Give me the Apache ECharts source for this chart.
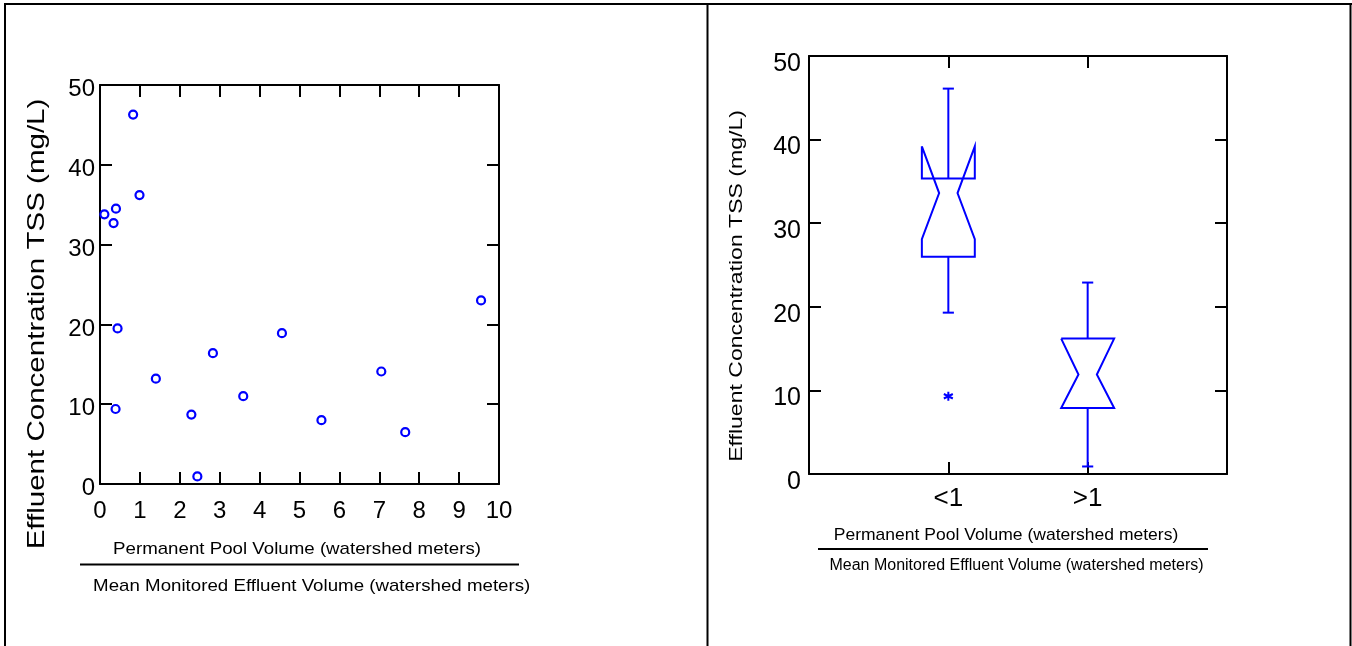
<!DOCTYPE html>
<html>
<head>
<meta charset="utf-8">
<script src="https://cdn.jsdelivr.net/npm/echarts@6/dist/echarts.min.js"></script>
<style>
html,body{margin:0;padding:0;background:#fff;}
#c{width:1352px;height:646px;}
</style>
</head>
<body>
<div id="c"></div>
<script>
// ---- Data ----
const poolRatio = [0.11, 0.34, 0.40, 0.39, 0.44, 0.83, 0.99, 1.40, 2.29, 2.44, 2.83, 3.59, 4.56, 5.55, 7.05, 7.65, 9.55];
const tssValues = [33.8, 32.7, 34.5, 9.4, 19.5, 46.3, 36.2, 13.2, 8.7, 0.95, 16.4, 11.0, 18.9, 8.0, 14.1, 6.5, 23.0];

const boxCategories = ['<1', '>1'];
const boxLowWhisker = [19.3, 0.9];
const boxQ1 = [26.0, 7.9];
const boxMedian = [33.6, 11.9];
const boxQ3 = [35.35, 16.2];
const boxHighWhisker = [46.1, 22.9];
const notchLow = [28.1, 7.9];
const notchHigh = [39.2, 16.2];
const outlierCategory = [0];
const outlierValue = [9.3];

const yTitle = 'Effluent Concentration TSS (mg/L)';
const xTitleTop = 'Permanent Pool Volume (watershed meters)';
const xTitleBottom = 'Mean Monitored Effluent Volume (watershed meters)';

// ---- Chart ----
const FF = '"Liberation Sans", Arial, sans-serif';
const BLUE = '#0000ff';
const chart = echarts.init(document.getElementById('c'), null, {renderer: 'canvas'});

const scatterData = poolRatio.map((x, i) => [x, tssValues[i]]);
const boxData = boxCategories.map((c, i) => [i + 1, boxLowWhisker[i], boxQ1[i], boxMedian[i], boxQ3[i], boxHighWhisker[i], notchLow[i], notchHigh[i]]);
const outlierData = outlierCategory.map((c, i) => [c + 1, outlierValue[i]]);

function axisBase(extra) {
  return Object.assign({
    type: 'value',
    axisLine: {onZero: false, lineStyle: {color: '#000', width: 2}},
    axisTick: {inside: true, length: 12, lineStyle: {color: '#000', width: 2}},
    splitLine: {show: false}
  }, extra);
}

const option = {
  animation: false,
  backgroundColor: '#fff',
  grid: [
    {left: 100, top: 85, width: 399, height: 399},
    {left: 809, top: 56, width: 418, height: 418}
  ],
  xAxis: [
    axisBase({gridIndex: 0, min: 0, max: 10, interval: 1, position: 'bottom',
      axisLabel: {color: '#000', fontSize: 24, fontFamily: FF, margin: 15}}),
    axisBase({gridIndex: 0, min: 0, max: 10, interval: 1, position: 'top', axisLabel: {show: false}}),
    axisBase({gridIndex: 1, min: 0, max: 3, interval: 1, position: 'bottom',
      axisLabel: {color: '#000', fontSize: 26, fontFamily: FF, margin: 12,
        formatter: v => (v >= 1 && v <= boxCategories.length) ? boxCategories[v - 1] : ''}}),
    axisBase({gridIndex: 1, min: 0, max: 3, interval: 1, position: 'top', axisLabel: {show: false}})
  ],
  yAxis: [
    axisBase({gridIndex: 0, min: 0, max: 50, interval: 10, position: 'left',
      axisLabel: {color: '#000', fontSize: 24, fontFamily: FF, margin: 5, verticalAlign: 'top', lineHeight: 9}}),
    axisBase({gridIndex: 0, min: 0, max: 50, interval: 10, position: 'right', axisLabel: {show: false}}),
    axisBase({gridIndex: 1, min: 0, max: 50, interval: 10, position: 'left',
      axisLabel: {color: '#000', fontSize: 25, fontFamily: FF, margin: 8, verticalAlign: 'top', lineHeight: 16}}),
    axisBase({gridIndex: 1, min: 0, max: 50, interval: 10, position: 'right', axisLabel: {show: false}})
  ],
  series: [
    {
      type: 'scatter', xAxisIndex: 0, yAxisIndex: 0, data: scatterData,
      symbol: 'circle', symbolSize: 8,
      itemStyle: {color: '#fff', borderColor: BLUE, borderWidth: 2.2, opacity: 1}
    },
    {
      type: 'custom', xAxisIndex: 2, yAxisIndex: 2, data: boxData,
      renderItem: function (params, api) {
        const x = api.value(0);
        const unit = api.size([1, 0])[0];
        const half = unit * 0.19, waist = unit * 0.066, cap = unit * 0.04;
        const cx = api.coord([x, 0])[0];
        const y = v => api.coord([x, v])[1];
        const low = api.value(1), q1 = api.value(2), med = api.value(3), q3 = api.value(4),
              high = api.value(5), nlo = api.value(6), nhi = api.value(7);
        const st = {stroke: BLUE, lineWidth: 2, fill: null};
        const pts = [
          [cx - half, y(nhi)], [cx - waist, y(med)], [cx - half, y(nlo)], [cx - half, y(q1)],
          [cx + half, y(q1)], [cx + half, y(nlo)], [cx + waist, y(med)], [cx + half, y(nhi)],
          [cx + half, y(q3)], [cx - half, y(q3)], [cx - half, y(nhi)]
        ];
        return {
          type: 'group',
          children: [
            {type: 'polyline', shape: {points: pts}, style: st},
            {type: 'line', shape: {x1: cx, y1: y(q3), x2: cx, y2: y(high)}, style: st},
            {type: 'line', shape: {x1: cx - cap, y1: y(high), x2: cx + cap, y2: y(high)}, style: st},
            {type: 'line', shape: {x1: cx, y1: y(q1), x2: cx, y2: y(low)}, style: st},
            {type: 'line', shape: {x1: cx - cap, y1: y(low), x2: cx + cap, y2: y(low)}, style: st}
          ]
        };
      }
    },
    {
      type: 'scatter', xAxisIndex: 2, yAxisIndex: 2, data: outlierData,
      symbol: 'path://M5,0L5,10M0.67,2.5L9.33,7.5M0.67,7.5L9.33,2.5', symbolSize: 9,
      itemStyle: {color: 'none', borderColor: BLUE, borderWidth: 2, opacity: 1}
    }
  ],
  graphic: [
    // panel frame
    {type: 'line', shape: {x1: 5, y1: 4, x2: 5, y2: 646}, style: {stroke: '#000', lineWidth: 2}},
    {type: 'line', shape: {x1: 4, y1: 4, x2: 1352, y2: 4}, style: {stroke: '#000', lineWidth: 2}},
    {type: 'line', shape: {x1: 1350.5, y1: 4, x2: 1350.5, y2: 646}, style: {stroke: '#000', lineWidth: 2}},
    {type: 'line', shape: {x1: 707.5, y1: 4, x2: 707.5, y2: 646}, style: {stroke: '#000', lineWidth: 2}},
    // left panel titles
    {type: 'text', x: 37, y: 324, rotation: Math.PI / 2, scaleX: 1.23,
      style: {text: yTitle, fontSize: 24, fontFamily: FF, fill: '#000', align: 'center', verticalAlign: 'middle', textAlign: 'center', textVerticalAlign: 'middle'}},
    {type: 'text', x: 297, y: 549, scaleX: 1.1,
      style: {text: xTitleTop, fontSize: 17, fontFamily: FF, fill: '#000', align: 'center', verticalAlign: 'middle', textAlign: 'center', textVerticalAlign: 'middle'}},
    {type: 'line', shape: {x1: 80, y1: 564.5, x2: 519, y2: 564.5}, style: {stroke: '#000', lineWidth: 2}},
    {type: 'text', x: 311.7, y: 586, scaleX: 1.1,
      style: {text: xTitleBottom, fontSize: 17, fontFamily: FF, fill: '#000', align: 'center', verticalAlign: 'middle', textAlign: 'center', textVerticalAlign: 'middle'}},
    // right panel titles
    {type: 'text', x: 737, y: 286, rotation: Math.PI / 2, scaleX: 1.28,
      style: {text: yTitle, fontSize: 18, fontFamily: FF, fill: '#000', align: 'center', verticalAlign: 'middle', textAlign: 'center', textVerticalAlign: 'middle'}},
    {type: 'text', x: 1006, y: 535, scaleX: 1.03,
      style: {text: xTitleTop, fontSize: 17, fontFamily: FF, fill: '#000', align: 'center', verticalAlign: 'middle', textAlign: 'center', textVerticalAlign: 'middle'}},
    {type: 'line', shape: {x1: 818, y1: 549, x2: 1208, y2: 549}, style: {stroke: '#000', lineWidth: 2}},
    {type: 'text', x: 1016.5, y: 566,
      style: {text: xTitleBottom, fontSize: 16, fontFamily: FF, fill: '#000', align: 'center', verticalAlign: 'middle', textAlign: 'center', textVerticalAlign: 'middle'}}
  ]
};
chart.setOption(option);
</script>
</body>
</html>
